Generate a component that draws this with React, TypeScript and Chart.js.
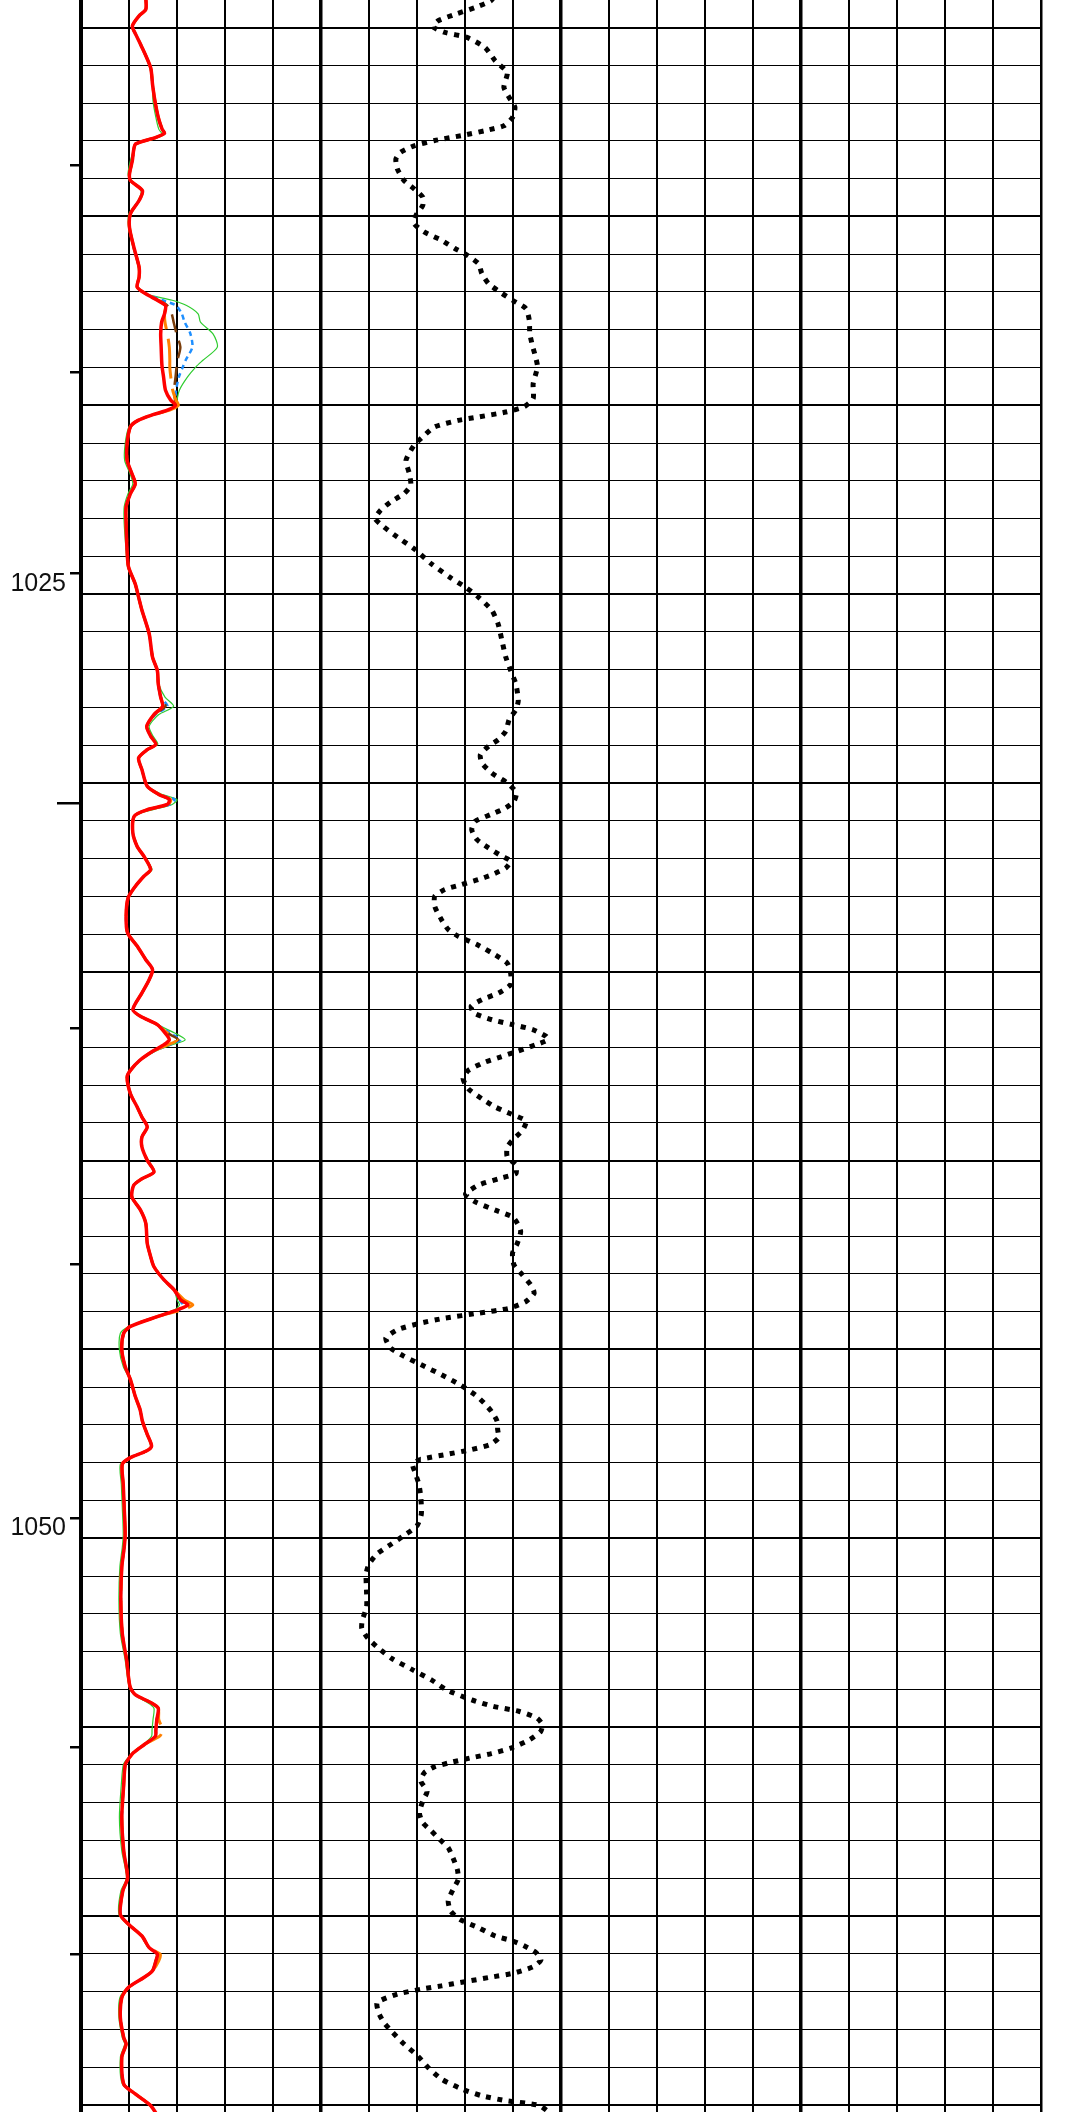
import React, { useEffect, useRef } from 'react';
import { Chart, registerables } from 'chart.js';

Chart.register(...registerables);

// ---- Depth range shown (the picture is a crop of a longer log) ----
const DEPTH_MIN = 1009.27;
const DEPTH_MAX = 1065.19;

// labelled depths on the left axis
const depthLabels = [1025, 1050];
// small tick marks on the depth axis
const depthTickMarks = [1013.63, 1019.11, 1024.44, 1030.53, 1036.48, 1042.74, 1049.46, 1055.53, 1061.0];
const longTickMarks = [1030.53];

// ---- Track 1 curves (values in chart divisions) ----
const track1Depth = [
  1009.2, 1009.52, 1009.69, 1009.96, 1010.18, 1010.44, 1011.06, 1011.5, 1011.94, 1012.38,
  1012.69, 1012.8, 1012.91, 1013.08, 1013.22, 1013.52, 1013.88, 1014.05, 1014.32, 1014.58,
  1014.93, 1015.29, 1015.81, 1016.34, 1016.61, 1016.87, 1017.05, 1017.22, 1017.36, 1017.58,
  1017.8, 1018.11, 1018.46, 1018.81, 1018.99, 1019.25, 1019.6, 1019.87, 1020.0, 1020.13,
  1020.25, 1020.4, 1020.57, 1021.02, 1021.46, 1021.81, 1022.08, 1022.34, 1022.69, 1023.14,
  1023.84, 1024.28, 1024.73, 1025.08, 1025.43, 1026.05, 1026.67, 1027.02, 1027.38, 1027.73,
  1027.97, 1028.19, 1028.5, 1028.76, 1028.98, 1029.12, 1029.34, 1029.65, 1030.09, 1030.31,
  1030.44, 1030.57, 1030.71, 1030.88, 1031.32, 1031.68, 1031.94, 1032.29, 1032.47, 1032.74,
  1033.05, 1033.53, 1033.97, 1034.32, 1034.68, 1034.94, 1035.21, 1035.56, 1036.0, 1036.18,
  1036.4, 1036.62, 1036.8, 1036.93, 1037.1, 1037.35, 1037.61, 1037.79, 1038.23, 1038.58,
  1038.85, 1039.11, 1039.37, 1039.64, 1039.99, 1040.3, 1040.48, 1040.65, 1040.96, 1041.31,
  1041.66, 1042.19, 1042.54, 1042.81, 1043.16, 1043.42, 1043.69, 1043.82, 1043.95, 1044.13,
  1044.39, 1044.57, 1045.01, 1045.45, 1045.8, 1046.24, 1046.59, 1046.9, 1047.25, 1047.56,
  1047.69, 1047.87, 1048.04, 1048.57, 1049.18, 1049.89, 1050.24, 1050.76, 1051.64, 1052.52,
  1053.22, 1053.92, 1054.14, 1054.36, 1054.5, 1054.8, 1055.07, 1055.24, 1055.46, 1055.68,
  1055.86, 1056.0, 1056.52, 1057.4, 1058.28, 1058.99, 1059.34, 1059.96, 1060.22, 1060.53,
  1060.84, 1061.01, 1061.19, 1061.45, 1061.63, 1061.89, 1062.16, 1062.69, 1063.22, 1063.39,
  1063.74, 1064.45, 1064.71, 1065.02, 1065.4,
];

const redCurve = [
  1.35, 1.35, 1.21, 1.07, 1.14, 1.24, 1.45, 1.49, 1.54, 1.61,
  1.69, 1.74, 1.56, 1.14, 1.10, 1.07, 1.01, 1.03, 1.28, 1.21,
  1.03, 1.01, 1.10, 1.21, 1.21, 1.17, 1.35, 1.59, 1.76, 1.74,
  1.68, 1.66, 1.67, 1.68, 1.69, 1.72, 1.76, 1.87, 1.97, 1.80,
  1.50, 1.19, 1.03, 0.96, 0.96, 1.06, 1.13, 1.03, 0.94, 0.94,
  0.96, 0.99, 1.13, 1.20, 1.27, 1.42, 1.49, 1.59, 1.61, 1.66,
  1.70, 1.52, 1.37, 1.45, 1.56, 1.38, 1.20, 1.27, 1.38, 1.63,
  1.84, 1.80, 1.38, 1.11, 1.08, 1.17, 1.31, 1.45, 1.31, 1.13,
  0.98, 0.94, 0.97, 1.17, 1.35, 1.49, 1.42, 1.27, 1.08, 1.24,
  1.59, 1.75, 1.84, 1.73, 1.50, 1.22, 1.03, 0.96, 1.03, 1.17,
  1.27, 1.38, 1.27, 1.27, 1.38, 1.52, 1.27, 1.10, 1.06, 1.24,
  1.35, 1.38, 1.45, 1.52, 1.73, 1.94, 2.08, 2.23, 2.01, 1.59,
  1.03, 0.89, 0.85, 0.92, 1.03, 1.13, 1.23, 1.28, 1.38, 1.47,
  1.36, 1.02, 0.86, 0.88, 0.90, 0.92, 0.90, 0.85, 0.83, 0.86,
  0.95, 1.02, 1.13, 1.47, 1.61, 1.58, 1.56, 1.55, 1.32, 1.09,
  0.98, 0.92, 0.89, 0.85, 0.89, 0.97, 0.87, 0.82, 0.99, 1.27,
  1.42, 1.59, 1.56, 1.49, 1.31, 0.99, 0.85, 0.82, 0.89, 0.94,
  0.85, 0.89, 1.13, 1.45, 1.65,
];

const orangeCurve = [
  1.35, 1.35, 1.21, 1.07, 1.14, 1.24, 1.45, 1.49, 1.54, 1.61,
  1.69, 1.74, 1.56, 1.14, 1.10, 1.07, 1.01, 1.03, 1.28, 1.21,
  1.03, 1.01, 1.10, 1.21, 1.21, 1.17, 1.35, 1.60, 1.76, 1.74,
  1.75, 1.80, 1.84, 1.85, 1.85, 1.87, 1.91, 1.98, 2.03, 1.85,
  1.50, 1.19, 1.03, 0.96, 0.96, 1.06, 1.13, 1.03, 0.94, 0.94,
  0.96, 0.99, 1.13, 1.20, 1.27, 1.42, 1.49, 1.59, 1.61, 1.66,
  1.70, 1.52, 1.37, 1.45, 1.56, 1.38, 1.20, 1.27, 1.38, 1.63,
  1.87, 1.82, 1.38, 1.11, 1.08, 1.17, 1.31, 1.45, 1.31, 1.13,
  0.98, 0.94, 0.97, 1.17, 1.35, 1.49, 1.42, 1.27, 1.08, 1.24,
  1.59, 1.80, 2.00, 1.82, 1.50, 1.22, 1.03, 0.96, 1.03, 1.17,
  1.27, 1.38, 1.27, 1.27, 1.38, 1.52, 1.27, 1.10, 1.06, 1.24,
  1.35, 1.38, 1.45, 1.52, 1.73, 1.94, 2.15, 2.33, 2.10, 1.59,
  1.03, 0.89, 0.85, 0.92, 1.03, 1.13, 1.23, 1.28, 1.38, 1.47,
  1.36, 1.02, 0.86, 0.88, 0.90, 0.92, 0.90, 0.85, 0.83, 0.86,
  0.95, 1.02, 1.13, 1.47, 1.61, 1.62, 1.70, 1.64, 1.32, 1.09,
  0.98, 0.92, 0.89, 0.85, 0.89, 0.97, 0.87, 0.82, 0.99, 1.27,
  1.42, 1.65, 1.62, 1.49, 1.31, 0.99, 0.85, 0.82, 0.89, 0.94,
  0.85, 0.89, 1.13, 1.45, 1.65,
];

const brownCurve = [
  1.35, 1.35, 1.21, 1.07, 1.14, 1.24, 1.45, 1.49, 1.54, 1.61,
  1.69, 1.74, 1.56, 1.14, 1.10, 1.07, 1.01, 1.03, 1.28, 1.21,
  1.03, 1.01, 1.10, 1.21, 1.21, 1.17, 1.35, 1.62, 1.80, 1.89,
  1.93, 1.99, 2.07, 2.01, 1.99, 1.97, 1.94, 1.96, 2.00, 1.82,
  1.50, 1.19, 1.03, 0.96, 0.96, 1.06, 1.13, 1.03, 0.94, 0.94,
  0.96, 0.99, 1.13, 1.20, 1.27, 1.42, 1.49, 1.59, 1.61, 1.66,
  1.76, 1.52, 1.37, 1.45, 1.56, 1.38, 1.20, 1.27, 1.38, 1.63,
  1.84, 1.80, 1.38, 1.11, 1.08, 1.17, 1.31, 1.45, 1.31, 1.13,
  0.98, 0.94, 0.97, 1.17, 1.35, 1.49, 1.42, 1.27, 1.08, 1.24,
  1.59, 1.80, 2.03, 1.78, 1.50, 1.22, 1.03, 0.96, 1.03, 1.17,
  1.27, 1.38, 1.27, 1.27, 1.38, 1.52, 1.27, 1.10, 1.06, 1.24,
  1.35, 1.38, 1.45, 1.52, 1.73, 1.94, 2.08, 2.23, 2.01, 1.59,
  1.03, 0.89, 0.85, 0.92, 1.03, 1.13, 1.23, 1.28, 1.38, 1.47,
  1.36, 1.02, 0.86, 0.88, 0.90, 0.92, 0.90, 0.85, 0.83, 0.86,
  0.95, 1.02, 1.13, 1.47, 1.61, 1.58, 1.56, 1.55, 1.32, 1.09,
  0.98, 0.92, 0.89, 0.85, 0.89, 0.97, 0.87, 0.82, 0.99, 1.27,
  1.42, 1.59, 1.56, 1.49, 1.31, 0.99, 0.85, 0.82, 0.89, 0.94,
  0.85, 0.89, 1.13, 1.45, 1.65,
];

const blueCurve = [
  1.35, 1.35, 1.21, 1.07, 1.14, 1.24, 1.45, 1.49, 1.54, 1.61,
  1.69, 1.74, 1.56, 1.14, 1.10, 1.07, 1.01, 1.03, 1.28, 1.21,
  1.03, 1.01, 1.10, 1.21, 1.21, 1.17, 1.35, 1.70, 1.98, 2.10,
  2.16, 2.28, 2.32, 2.18, 2.12, 2.04, 1.98, 1.97, 1.98, 1.82,
  1.50, 1.19, 1.03, 0.96, 0.96, 1.06, 1.13, 1.03, 0.94, 0.94,
  0.96, 0.99, 1.13, 1.20, 1.27, 1.42, 1.49, 1.59, 1.61, 1.66,
  1.80, 1.55, 1.37, 1.45, 1.56, 1.38, 1.20, 1.27, 1.38, 1.63,
  1.95, 1.85, 1.38, 1.11, 1.08, 1.17, 1.31, 1.45, 1.31, 1.13,
  0.98, 0.94, 0.97, 1.17, 1.35, 1.49, 1.42, 1.27, 1.08, 1.24,
  1.59, 1.85, 2.07, 1.85, 1.52, 1.22, 1.03, 0.96, 1.03, 1.17,
  1.27, 1.38, 1.27, 1.27, 1.38, 1.52, 1.27, 1.10, 1.06, 1.24,
  1.35, 1.38, 1.45, 1.52, 1.73, 1.94, 2.05, 2.12, 2.05, 1.59,
  1.03, 0.89, 0.85, 0.92, 1.03, 1.13, 1.23, 1.28, 1.38, 1.47,
  1.36, 1.02, 0.86, 0.88, 0.90, 0.92, 0.90, 0.85, 0.83, 0.86,
  0.95, 1.02, 1.13, 1.47, 1.61, 1.58, 1.56, 1.55, 1.32, 1.09,
  0.98, 0.92, 0.89, 0.85, 0.89, 0.97, 0.87, 0.82, 0.99, 1.27,
  1.42, 1.59, 1.56, 1.49, 1.31, 0.99, 0.85, 0.82, 0.89, 0.94,
  0.85, 0.89, 1.13, 1.45, 1.65,
];

const greenCurve = [
  1.35, 1.35, 1.21, 1.07, 1.14, 1.24, 1.45, 1.49, 1.50, 1.56,
  1.62, 1.68, 1.60, 1.14, 1.10, 1.03, 0.98, 1.03, 1.25, 1.19,
  1.00, 0.99, 1.08, 1.19, 1.20, 1.17, 1.35, 1.90, 2.20, 2.44,
  2.49, 2.75, 2.84, 2.54, 2.39, 2.22, 2.05, 2.00, 2.00, 1.85,
  1.50, 1.17, 1.00, 0.92, 0.91, 1.02, 1.08, 0.98, 0.90, 0.90,
  0.94, 0.97, 1.11, 1.18, 1.26, 1.41, 1.49, 1.59, 1.62, 1.75,
  1.93, 1.62, 1.42, 1.50, 1.60, 1.40, 1.20, 1.27, 1.40, 1.70,
  2.00, 1.90, 1.50, 1.11, 1.08, 1.17, 1.31, 1.48, 1.33, 1.13,
  0.98, 0.94, 0.97, 1.17, 1.35, 1.49, 1.42, 1.27, 1.08, 1.24,
  1.59, 1.95, 2.17, 1.90, 1.55, 1.22, 1.03, 0.96, 1.03, 1.17,
  1.27, 1.38, 1.27, 1.27, 1.38, 1.52, 1.27, 1.10, 1.06, 1.24,
  1.35, 1.38, 1.45, 1.52, 1.73, 1.94, 2.00, 2.05, 1.95, 1.55,
  1.00, 0.82, 0.80, 0.88, 1.03, 1.13, 1.23, 1.28, 1.38, 1.45,
  1.36, 1.02, 0.82, 0.84, 0.86, 0.88, 0.86, 0.81, 0.79, 0.82,
  0.92, 1.00, 1.10, 1.40, 1.52, 1.50, 1.48, 1.47, 1.30, 1.07,
  0.95, 0.88, 0.84, 0.80, 0.85, 0.95, 0.83, 0.79, 0.97, 1.25,
  1.40, 1.57, 1.54, 1.47, 1.30, 0.97, 0.81, 0.79, 0.86, 0.91,
  0.82, 0.86, 1.13, 1.45, 1.65,
];

// ---- Track 2 dotted curve ----
const dottedDepth = [
  1009.2, 1009.3, 1009.47, 1009.65, 1009.82, 1009.98, 1010.13, 1010.26, 1010.53, 1010.88,
  1011.19, 1011.58, 1011.85, 1012.11, 1012.38, 1012.6, 1012.73, 1012.86, 1012.99, 1013.13,
  1013.3, 1013.48, 1013.74, 1014.05, 1014.27, 1014.49, 1014.71, 1014.97, 1015.19, 1015.41,
  1015.63, 1015.85, 1015.99, 1016.25, 1016.51, 1016.78, 1017.04, 1017.22, 1017.44, 1017.75,
  1018.1, 1018.45, 1018.67, 1018.98, 1019.43, 1019.82, 1020.04, 1020.18, 1020.31, 1020.4,
  1020.57, 1020.8, 1021.06, 1021.46, 1021.81, 1022.12, 1022.34, 1022.56, 1022.78, 1023.0,
  1023.22, 1023.49, 1023.8, 1024.2, 1024.55, 1024.81, 1025.08, 1025.43, 1025.79, 1026.23,
  1026.67, 1027.02, 1027.38, 1027.82, 1028.06, 1028.32, 1028.63, 1028.85, 1029.03, 1029.25,
  1029.47, 1029.74, 1030.0, 1030.26, 1030.49, 1030.66, 1030.84, 1031.02, 1031.24, 1031.5,
  1031.72, 1031.94, 1032.07, 1032.25, 1032.43, 1032.56, 1032.69, 1032.82, 1033.0, 1033.27,
  1033.62, 1033.88, 1034.06, 1034.28, 1034.5, 1034.77, 1035.03, 1035.34, 1035.56, 1035.74,
  1035.91, 1036.09, 1036.27, 1036.4, 1036.53, 1036.71, 1036.8, 1036.93, 1037.1, 1037.25,
  1037.39, 1037.61, 1037.83, 1038.1, 1038.36, 1038.58, 1038.76, 1038.95, 1039.2, 1039.42,
  1039.64, 1039.9, 1040.12, 1040.34, 1040.48, 1040.65, 1040.89, 1041.09, 1041.31, 1041.49,
  1041.66, 1041.88, 1042.19, 1042.45, 1042.76, 1043.03, 1043.29, 1043.51, 1043.73, 1043.91,
  1044.04, 1044.17, 1044.3, 1044.48, 1044.7, 1044.96, 1045.18, 1045.4, 1045.67, 1045.93,
  1046.2, 1046.42, 1046.64, 1046.9, 1047.12, 1047.34, 1047.52, 1047.65, 1047.78, 1047.91,
  1048.04, 1048.26, 1048.57, 1048.92, 1049.36, 1049.67, 1049.89, 1050.15, 1050.41, 1050.68,
  1050.94, 1051.47, 1051.82, 1052.17, 1052.39, 1052.65, 1052.91, 1053.18, 1053.49, 1053.75,
  1054.01, 1054.28, 1054.45, 1054.58, 1054.76, 1054.93, 1055.11, 1055.33, 1055.55, 1055.7,
  1055.82, 1055.95, 1056.06, 1056.21, 1056.43, 1056.7, 1056.96, 1057.27, 1057.53, 1057.75,
  1057.97, 1058.19, 1058.46, 1058.77, 1059.03, 1059.3, 1059.6, 1059.87, 1060.09, 1060.31,
  1060.53, 1060.66, 1060.79, 1060.97, 1061.17, 1061.35, 1061.52, 1061.63, 1061.74, 1061.85,
  1061.94, 1062.07, 1062.29, 1062.56, 1062.82, 1063.08, 1063.39, 1063.7, 1064.01, 1064.32,
  1064.58, 1064.76, 1064.89, 1065.02, 1065.3,
];

const dottedCurve = [
  8.60, 8.53, 8.21, 7.79, 7.44, 7.33, 7.58, 8.04, 8.42, 8.63,
  8.88, 8.81, 8.92, 9.04, 8.99, 8.81, 8.42, 7.93, 7.37, 6.94,
  6.66, 6.56, 6.59, 6.73, 6.94, 7.12, 7.12, 6.98, 6.94, 7.15,
  7.51, 7.79, 8.00, 8.28, 8.35, 8.49, 8.77, 8.99, 9.27, 9.34,
  9.35, 9.41, 9.46, 9.51, 9.42, 9.42, 9.23, 8.85, 8.28, 7.86,
  7.37, 7.15, 6.94, 6.77, 6.84, 6.87, 6.73, 6.45, 6.24, 6.13,
  6.31, 6.59, 6.94, 7.30, 7.68, 8.00, 8.28, 8.56, 8.69, 8.77,
  8.85, 8.95, 9.06, 9.11, 9.06, 8.92, 8.85, 8.70, 8.49, 8.32,
  8.35, 8.56, 8.88, 9.07, 9.02, 8.85, 8.53, 8.21, 8.14, 8.25,
  8.49, 8.77, 8.95, 8.85, 8.56, 8.28, 7.93, 7.58, 7.37, 7.37,
  7.51, 7.65, 7.86, 8.25, 8.56, 8.88, 8.95, 8.95, 8.70, 8.35,
  8.13, 8.18, 8.56, 8.99, 9.41, 9.69, 9.73, 9.48, 9.10, 8.75,
  8.42, 8.07, 7.96, 8.07, 8.35, 8.63, 8.95, 9.27, 9.20, 9.02,
  8.88, 8.88, 9.06, 9.06, 8.70, 8.28, 8.01, 8.21, 8.63, 8.99,
  9.09, 9.16, 9.09, 8.99, 9.02, 9.20, 9.37, 9.44, 9.27, 8.92,
  8.28, 7.58, 7.08, 6.59, 6.35, 6.45, 6.73, 7.08, 7.51, 7.89,
  8.21, 8.40, 8.55, 8.67, 8.68, 8.70, 8.52, 8.14, 7.61, 7.08,
  6.91, 6.96, 7.04, 7.08, 7.09, 7.00, 6.77, 6.47, 6.17, 6.00,
  5.94, 5.95, 5.95, 5.86, 5.85, 5.98, 6.20, 6.47, 6.92, 7.30,
  7.61, 8.14, 8.59, 9.12, 9.50, 9.61, 9.58, 9.35, 8.97, 8.55,
  8.10, 7.65, 7.35, 7.15, 7.08, 7.21, 7.12, 7.05, 7.12, 7.30,
  7.47, 7.65, 7.75, 7.84, 7.86, 7.75, 7.65, 7.70, 7.89, 8.28,
  8.63, 8.99, 9.23, 9.48, 9.58, 9.41, 8.99, 8.49, 8.00, 7.51,
  7.08, 6.59, 6.17, 6.20, 6.31, 6.49, 6.73, 7.01, 7.23, 7.51,
  7.93, 8.35, 8.85, 9.55, 9.85,
];

const toPoints = (depths: number[], values: number[]) =>
  depths.map((d, i) => ({ x: values[i], y: d }));

const near = (a: number, b: number) => Math.abs(a - b) < 1e-6;

const depthTickPlugin = {
  id: 'depthTickMarks',
  afterDraw(chart: any) {
    const yScale = chart.scales.y;
    const ctx = chart.ctx;
    const left = chart.chartArea.left;
    ctx.save();
    ctx.strokeStyle = '#000';
    ctx.lineWidth = 2.5;
    depthTickMarks.forEach((d) => {
      const py = Math.round(yScale.getPixelForValue(d)) + 0.25;
      const isLong = longTickMarks.some((l) => near(l, d));
      ctx.beginPath();
      ctx.moveTo(left - (isLong ? 24 : 11), py);
      ctx.lineTo(left, py);
      ctx.stroke();
    });
    ctx.restore();
  },
};

export default function App() {
  const canvasRef = useRef<HTMLCanvasElement>(null);

  useEffect(() => {
    if (!canvasRef.current) return;
    const chart = new Chart(canvasRef.current, {
      type: 'line',
      data: {
        datasets: [
          {
            label: 'red',
            data: toPoints(track1Depth, redCurve),
            borderColor: '#ff0000',
            borderWidth: 3.5,
            tension: 0.25,
          },
          {
            label: 'orange',
            data: toPoints(track1Depth, orangeCurve),
            borderColor: '#ff8000',
            borderWidth: 3,
            borderDash: [40, 10],
            tension: 0.25,
          },
          {
            label: 'brown',
            data: toPoints(track1Depth, brownCurve),
            borderColor: '#7a3d0a',
            borderWidth: 2.5,
            borderDash: [18, 9],
            tension: 0.25,
          },
          {
            label: 'blue',
            data: toPoints(track1Depth, blueCurve),
            borderColor: '#1e8fff',
            borderWidth: 2.5,
            borderDash: [5, 4],
            tension: 0.25,
          },
          {
            label: 'green',
            data: toPoints(track1Depth, greenCurve),
            borderColor: '#2ecc2e',
            borderWidth: 1.2,
            tension: 0.25,
          },
          {
            label: 'dotted',
            data: toPoints(dottedDepth, dottedCurve),
            borderColor: '#000000',
            borderWidth: 5,
            borderDash: [5, 6.5],
            tension: 0.2,
          },
        ],
      },
      options: {
        animation: false,
        responsive: false,
        indexAxis: 'y',
        layout: { padding: { left: 0, right: 49, top: 0, bottom: 0 }, autoPadding: false },
        elements: { point: { radius: 0, hoverRadius: 0 } },
        plugins: { legend: { display: false }, tooltip: { enabled: false } },
        events: [],
        scales: {
          x: {
            type: 'linear',
            position: 'top',
            min: 0,
            max: 20,
            ticks: { display: false, stepSize: 1 },
            afterFit: (scale: any) => {
              scale.height = 0;
              scale.paddingLeft = 0;
              scale.paddingRight = 0;
            },
            grid: {
              drawTicks: false,
              color: '#000',
              lineWidth: (c: any) => {
                const v = Math.round(c.tick.value);
                if (v === 20) return 2.5;
                return v % 5 === 0 ? 3.5 : 2;
              },
            },
            border: { display: false },
          },
          y: {
            type: 'linear',
            reverse: true,
            min: DEPTH_MIN,
            max: DEPTH_MAX,
            afterFit: (scale: any) => {
              scale.width = 81;
              scale.paddingTop = 0;
              scale.paddingBottom = 0;
            },
            ticks: {
              stepSize: 1,
              includeBounds: false,
              autoSkip: false,
              padding: 15,
              labelOffset: -10,
              color: '#111',
              font: { size: 25, family: 'Liberation Sans, Arial, sans-serif' },
              callback: (v: any) => (depthLabels.some((l) => near(l, Number(v))) ? String(Math.round(Number(v))) : ''),
            },
            grid: {
              drawTicks: false,
              color: '#000',
              lineWidth: (c: any) => (Math.round(c.tick.value) % 5 === 0 ? 2 : 1),
            },
            border: { display: true, width: 4, color: '#000' },
          },
        },
      } as any,
      plugins: [depthTickPlugin],
    });
    return () => chart.destroy();
  }, []);

  return (
    <div style={{ position: 'absolute', left: 0, top: 0, width: 1090, height: 2112, background: '#fff' }}>
      <canvas ref={canvasRef} width={1090} height={2112} style={{ display: 'block' }} />
    </div>
  );
}
